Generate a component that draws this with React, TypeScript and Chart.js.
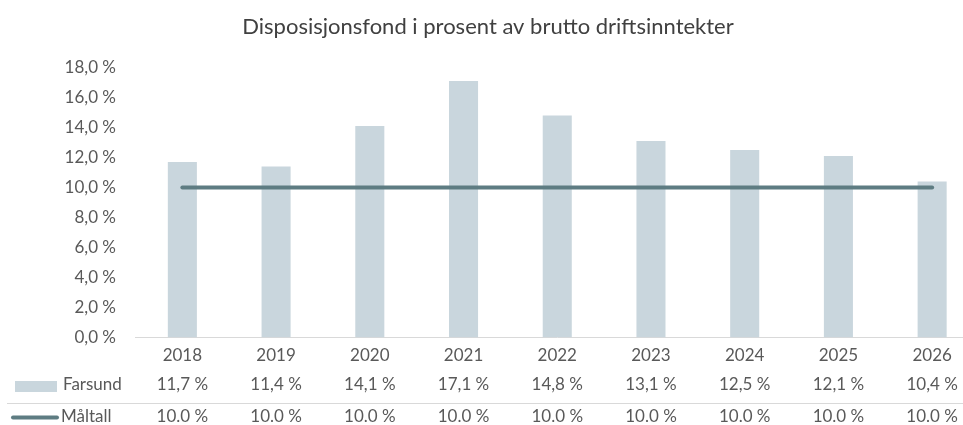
import React, { useEffect, useRef } from "react";
import { Chart, registerables } from "chart.js";

Chart.register(...registerables);

const title = "Disposisjonsfond i prosent av brutto driftsinntekter";
const categories = ["2018", "2019", "2020", "2021", "2022", "2023", "2024", "2025", "2026"];
const farsund = [11.7, 11.4, 14.1, 17.1, 14.8, 13.1, 12.5, 12.1, 10.4];
const maltall = [10, 10, 10, 10, 10, 10, 10, 10, 10];
const seriesNames = ["Farsund", "Måltall"];
const farsundLabels = ["11,7 %", "11,4 %", "14,1 %", "17,1 %", "14,8 %", "13,1 %", "12,5 %", "12,1 %", "10,4 %"];
const maltallLabels = ["10.0 %", "10.0 %", "10.0 %", "10.0 %", "10.0 %", "10.0 %", "10.0 %", "10.0 %", "10.0 %"];

const BAR = "#c9d6dd";
const LINE = "#5e7c82";
const TEXT = "#595959";
const FONT = "Lato, 'Open Sans', sans-serif";

const tablePlugin = {
  id: "dataTable",
  afterDraw(chart: any) {
    const ctx = chart.ctx;
    const xs = chart.scales.x;
    ctx.save();
    // title
    ctx.fillStyle = "#404040";
    ctx.font = `22px ${FONT}`;
    ctx.textAlign = "center";
    ctx.textBaseline = "middle";
    ctx.fillText(title, 488, 27);

    // separator
    ctx.strokeStyle = "#d9d9d9";
    ctx.lineWidth = 1;
    ctx.beginPath();
    ctx.moveTo(7, 403.5);
    ctx.lineTo(chart.width, 403.5);
    ctx.stroke();

    // legend keys
    ctx.fillStyle = BAR;
    ctx.fillRect(15, 381, 42, 11);
    ctx.strokeStyle = LINE;
    ctx.lineWidth = 4;
    ctx.lineCap = "round";
    ctx.beginPath();
    ctx.moveTo(13, 417.5);
    ctx.lineTo(57, 417.5);
    ctx.stroke();

    ctx.fillStyle = TEXT;
    ctx.font = `17px ${FONT}`;
    ctx.textAlign = "left";
    ctx.fillText(seriesNames[0], 63, 385);
    ctx.fillText(seriesNames[1], 61, 417);

    ctx.textAlign = "center";
    categories.forEach((_, i) => {
      const x = xs.getPixelForValue(i);
      ctx.fillText(farsundLabels[i], x, 385);
      ctx.fillText(maltallLabels[i], x, 417);
    });
    ctx.restore();
  },
};

export default function App() {
  const ref = useRef<HTMLCanvasElement>(null);
  useEffect(() => {
    if (!ref.current) return;
    const chart = new Chart(ref.current, {
      type: "bar",
      data: {
        labels: categories,
        datasets: [
          {
            type: "line",
            label: seriesNames[1],
            data: maltall,
            borderColor: LINE,
            borderWidth: 4,
            borderCapStyle: "round",
            pointRadius: 0,
            order: 0,
          } as any,
          {
            type: "bar",
            label: seriesNames[0],
            data: farsund,
            backgroundColor: BAR,
            categoryPercentage: 1,
            barPercentage: 0.31,
            order: 1,
          },
        ],
      },
      options: {
        animation: false,
        responsive: false,
        layout: { padding: { left: 0, right: 6, top: 67.5, bottom: 0 } },
        plugins: { legend: { display: false }, title: { display: false }, tooltip: { enabled: false } },
        scales: {
          x: {
            grid: { display: false, drawTicks: false },
            border: { display: true, color: "#d9d9d9", width: 1 },
            ticks: { color: TEXT, font: { family: FONT, size: 17 }, padding: 8 },
            afterFit: (s: any) => { s.height = 87.5; },
          },
          y: {
            min: 0,
            max: 18,
            grid: { display: false, drawTicks: false },
            border: { display: false },
            ticks: {
              stepSize: 2,
              color: TEXT,
              font: { family: FONT, size: 17 },
              padding: 19.5,
              callback: (v: any) => Number(v).toFixed(1).replace(".", ",") + " %",
            },
            afterFit: (s: any) => { s.width = 135.5; },
          },
        },
      },
      plugins: [tablePlugin],
    });
    return () => chart.destroy();
  }, []);
  return (
    <div style={{ position: "fixed", left: 0, top: 0, width: 963, height: 425, overflow: "hidden", background: "#fff" }}>
      <canvas ref={ref} width={985} height={425} style={{ display: "block" }} />
    </div>
  );
}
